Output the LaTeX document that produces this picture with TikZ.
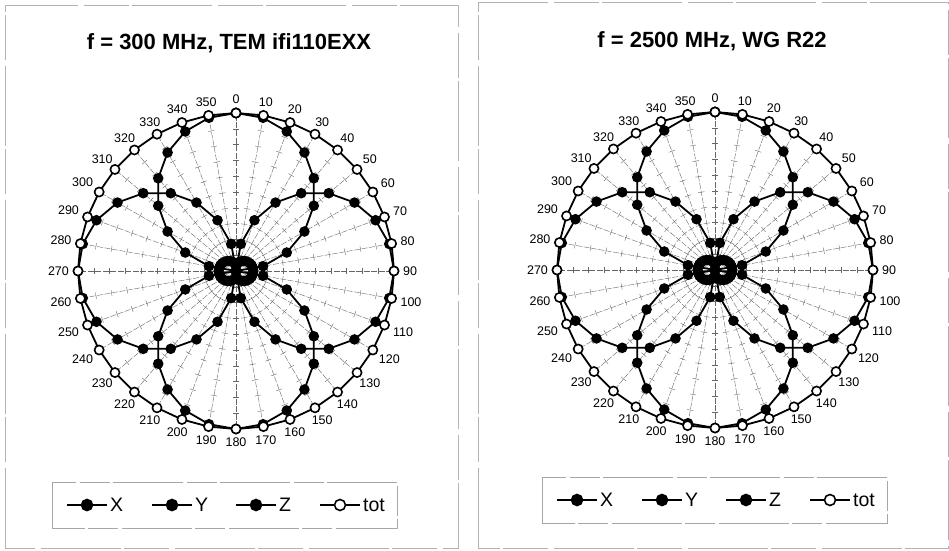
\documentclass[tikz,border=0pt]{standalone}
\usepackage{fontspec}
\setmainfont{Liberation Sans}
\begin{document}
\begin{tikzpicture}[x=1pt, y=1pt,
    frame/.style={gray!60, line width=0.9pt, dash pattern=on 80pt off 6pt on 45pt off 3pt},
    legbox/.style={gray!70, line width=0.9pt, dash pattern=on 70pt off 4pt on 30pt off 3pt},
    spoke/.style={gray!80!black, line width=0.4pt, dash pattern=on 6pt off 1.5pt},
    tacca/.style={gray!80!black, line width=0.4pt},
    curve/.style={black, line width=1.8pt, mark=*, mark size=4.6pt, mark options={fill=black, line width=1.3pt}},
    totcurve/.style={curve, mark options={fill=white, line width=1.6pt}},
    dot/.style={circle, draw=black, line width=1.6pt, minimum size=11pt, inner sep=0pt},
    titletext/.style={font=\fontsize{22}{26}\selectfont\bfseries},
    anglab/.style={font=\fontsize{12.5}{14}\selectfont, inner sep=1pt},
    legtext/.style={font=\fontsize{19.5}{22}\selectfont, inner sep=0pt}]
    \useasboundingbox (0,0) rectangle (949,550);

    % Cornici
    \draw[frame] (5,2) rectangle (458,545);
    \draw[frame] (478,2) rectangle (948,548);

    % Titoli
    \node[titletext] (title300) at (229,507) {f = 300 MHz, TEM ifi110EXX};
    \node[titletext] (title2500) at (712,509) {f = 2500 MHz, WG R22};

    % Diagrammi polari
    \foreach \cx/\cy/\p in {236/279/a, 715/280/b} {
        \begin{scope}[shift={(\cx pt,\cy pt)}, x=158pt, y=158pt]
            % raggi con tacche
            \foreach \a in {0,10,...,350} {
                \begin{scope}[rotate=-\a]
                    \draw[spoke] (0,0) -- (0,1);
                    \foreach \r in {1,...,9}
                        \draw[tacca] (-0.02,\r/10) -- (0.02,\r/10);
                \end{scope}
            }

            % X, Y, Z
            \draw[curve] plot[domain=0:360, samples=37]
                ({abs(cos(\x))*sin(\x)}, {abs(cos(\x))*cos(\x)});
            \draw[curve] plot[domain=0:360, samples=37]
                ({abs(sin(\x))*sin(\x)}, {abs(sin(\x))*cos(\x)});
            \draw[curve] plot[domain=0:360, samples=37]
                ({(0.035+0.075*abs(sin(\x)))*sin(\x)}, {(0.035+0.075*abs(sin(\x)))*cos(\x)});

            % tot
            \draw[totcurve] plot[domain=0:360, samples=37]
                ({sin(\x)}, {cos(\x)});

            % Etichette angoli
            \foreach \a [evaluate=\a as \an using {int(mod(630-\a,360))}] in {0,10,...,350}
                \node[anglab, anchor=\an] (\p\a) at ({90-\a}:1.05) {\a};
        \end{scope}
    }

    % Legende
    \foreach \bx/\by/\p in {52/45/a, 542/50/b} {
        \draw[legbox] (\bx,\by-23) rectangle (\bx+345,\by+23);
        \foreach \dx/\nm/\fl in {35/X/black, 120/Y/black, 204/Z/black, 288/tot/white} {
            \coordinate (\p L\nm) at (\bx+\dx-20,\by);
            \coordinate (\p R\nm) at (\bx+\dx+20,\by);
            \draw[black, line width=1.8pt] (\p L\nm) -- (\p R\nm);
            \node[dot, fill=\fl] (\p mark\nm) at (\bx+\dx,\by) {};
            \node[legtext, anchor=west] (\p txt\nm) at (\bx+\dx+23,\by) {\nm};
        }
    }
\end{tikzpicture}
\end{document}
